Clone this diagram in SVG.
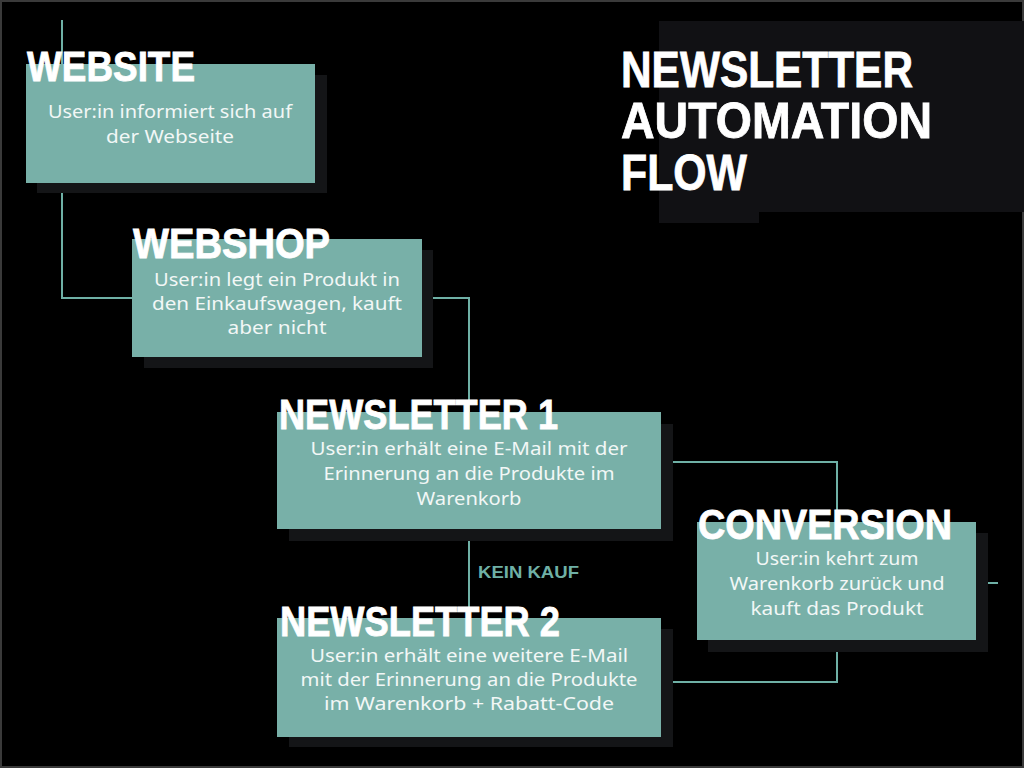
<svg xmlns="http://www.w3.org/2000/svg" width="1024" height="768" viewBox="0 0 1024 768">
<style>
.bg{fill:#000000}
.shadow{fill:#141517}
.box{fill:#78b0a8}
.conn{fill:none;stroke:#6fb0a6;stroke-width:2}
.title{font-family:"Liberation Sans",Arial,sans-serif;font-weight:bold;fill:#ffffff;stroke:#ffffff;stroke-width:0.8}
.ntitle{font-size:42px}
.body{font-family:"Noto Sans","Open Sans",sans-serif;font-size:18px;fill:#f2f7f6;text-anchor:middle}
.label{font-family:"Liberation Sans",Arial,sans-serif;font-weight:bold;font-size:17px;fill:#6fb0a6}
</style>
<rect class="bg" x="0" y="0" width="1024" height="768"/>
<rect x="1" y="1" width="1022" height="766" fill="none" stroke="#3a3a3a" stroke-width="2"/>

<g id="header">
<rect x="659" y="21" width="365" height="191" fill="#111114"/>
<rect x="659" y="212" width="100" height="11" fill="#111114"/>
<text class="title" x="621" y="87" font-size="50" textLength="292" lengthAdjust="spacingAndGlyphs">NEWSLETTER</text>
<text class="title" x="621" y="138" font-size="50" textLength="311" lengthAdjust="spacingAndGlyphs">AUTOMATION</text>
<text class="title" x="621" y="190" font-size="50" textLength="126" lengthAdjust="spacingAndGlyphs">FLOW</text>
</g>

<g id="connectors">
<polyline class="conn" points="62,20 62,298 132,298"/>
<polyline class="conn" points="422,298 469,298 469,412"/>
<line class="conn" x1="469" y1="529" x2="469" y2="618"/>
<polyline class="conn" points="661,462 837,462 837,522"/>
<polyline class="conn" points="837,640 837,682 661,682"/>
<line class="conn" x1="976" y1="583" x2="998" y2="583"/>
<text class="label" x="478" y="578" textLength="101" lengthAdjust="spacingAndGlyphs">KEIN KAUF</text>
</g>

<g id="website">
<rect class="shadow" x="37" y="75" width="290" height="118"/>
<rect class="box" x="26" y="64" width="289" height="119"/>
<text class="title ntitle" x="27" y="81" textLength="168" lengthAdjust="spacingAndGlyphs">WEBSITE</text>
<text class="body" x="170" y="118" textLength="244" lengthAdjust="spacingAndGlyphs">User:in informiert sich auf</text>
<text class="body" x="170" y="143" textLength="128" lengthAdjust="spacingAndGlyphs">der Webseite</text>
</g>

<g id="webshop">
<rect class="shadow" x="144" y="250" width="289" height="118"/>
<rect class="box" x="132" y="239" width="290" height="118"/>
<text class="title ntitle" x="133" y="258" textLength="197" lengthAdjust="spacingAndGlyphs">WEBSHOP</text>
<text class="body" x="277" y="286" textLength="246" lengthAdjust="spacingAndGlyphs">User:in legt ein Produkt in</text>
<text class="body" x="277" y="310" textLength="250" lengthAdjust="spacingAndGlyphs">den Einkaufswagen, kauft</text>
<text class="body" x="277" y="334" textLength="99" lengthAdjust="spacingAndGlyphs">aber nicht</text>
</g>

<g id="newsletter1">
<rect class="shadow" x="289" y="424" width="384" height="117"/>
<rect class="box" x="277" y="412" width="384" height="117"/>
<text class="title ntitle" x="279" y="429" textLength="279" lengthAdjust="spacingAndGlyphs">NEWSLETTER 1</text>
<text class="body" x="469" y="455" textLength="317" lengthAdjust="spacingAndGlyphs">User:in erhält eine E-Mail mit der</text>
<text class="body" x="469" y="480" textLength="291" lengthAdjust="spacingAndGlyphs">Erinnerung an die Produkte im</text>
<text class="body" x="469" y="505" textLength="105" lengthAdjust="spacingAndGlyphs">Warenkorb</text>
</g>

<g id="conversion">
<rect class="shadow" x="708" y="533" width="280" height="119"/>
<rect class="box" x="697" y="522" width="279" height="118"/>
<text class="title ntitle" x="698" y="539" textLength="254" lengthAdjust="spacingAndGlyphs">CONVERSION</text>
<text class="body" x="837" y="565" textLength="163" lengthAdjust="spacingAndGlyphs">User:in kehrt zum</text>
<text class="body" x="837" y="590" textLength="215" lengthAdjust="spacingAndGlyphs">Warenkorb zurück und</text>
<text class="body" x="837" y="615" textLength="173" lengthAdjust="spacingAndGlyphs">kauft das Produkt</text>
</g>

<g id="newsletter2">
<rect class="shadow" x="289" y="629" width="384" height="118"/>
<rect class="box" x="277" y="618" width="384" height="119"/>
<text class="title ntitle" x="280" y="636" textLength="280" lengthAdjust="spacingAndGlyphs">NEWSLETTER 2</text>
<text class="body" x="469" y="662" textLength="318" lengthAdjust="spacingAndGlyphs">User:in erhält eine weitere E-Mail</text>
<text class="body" x="469" y="686" textLength="337" lengthAdjust="spacingAndGlyphs">mit der Erinnerung an die Produkte</text>
<text class="body" x="469" y="710" textLength="290" lengthAdjust="spacingAndGlyphs">im Warenkorb + Rabatt-Code</text>
</g>
</svg>
